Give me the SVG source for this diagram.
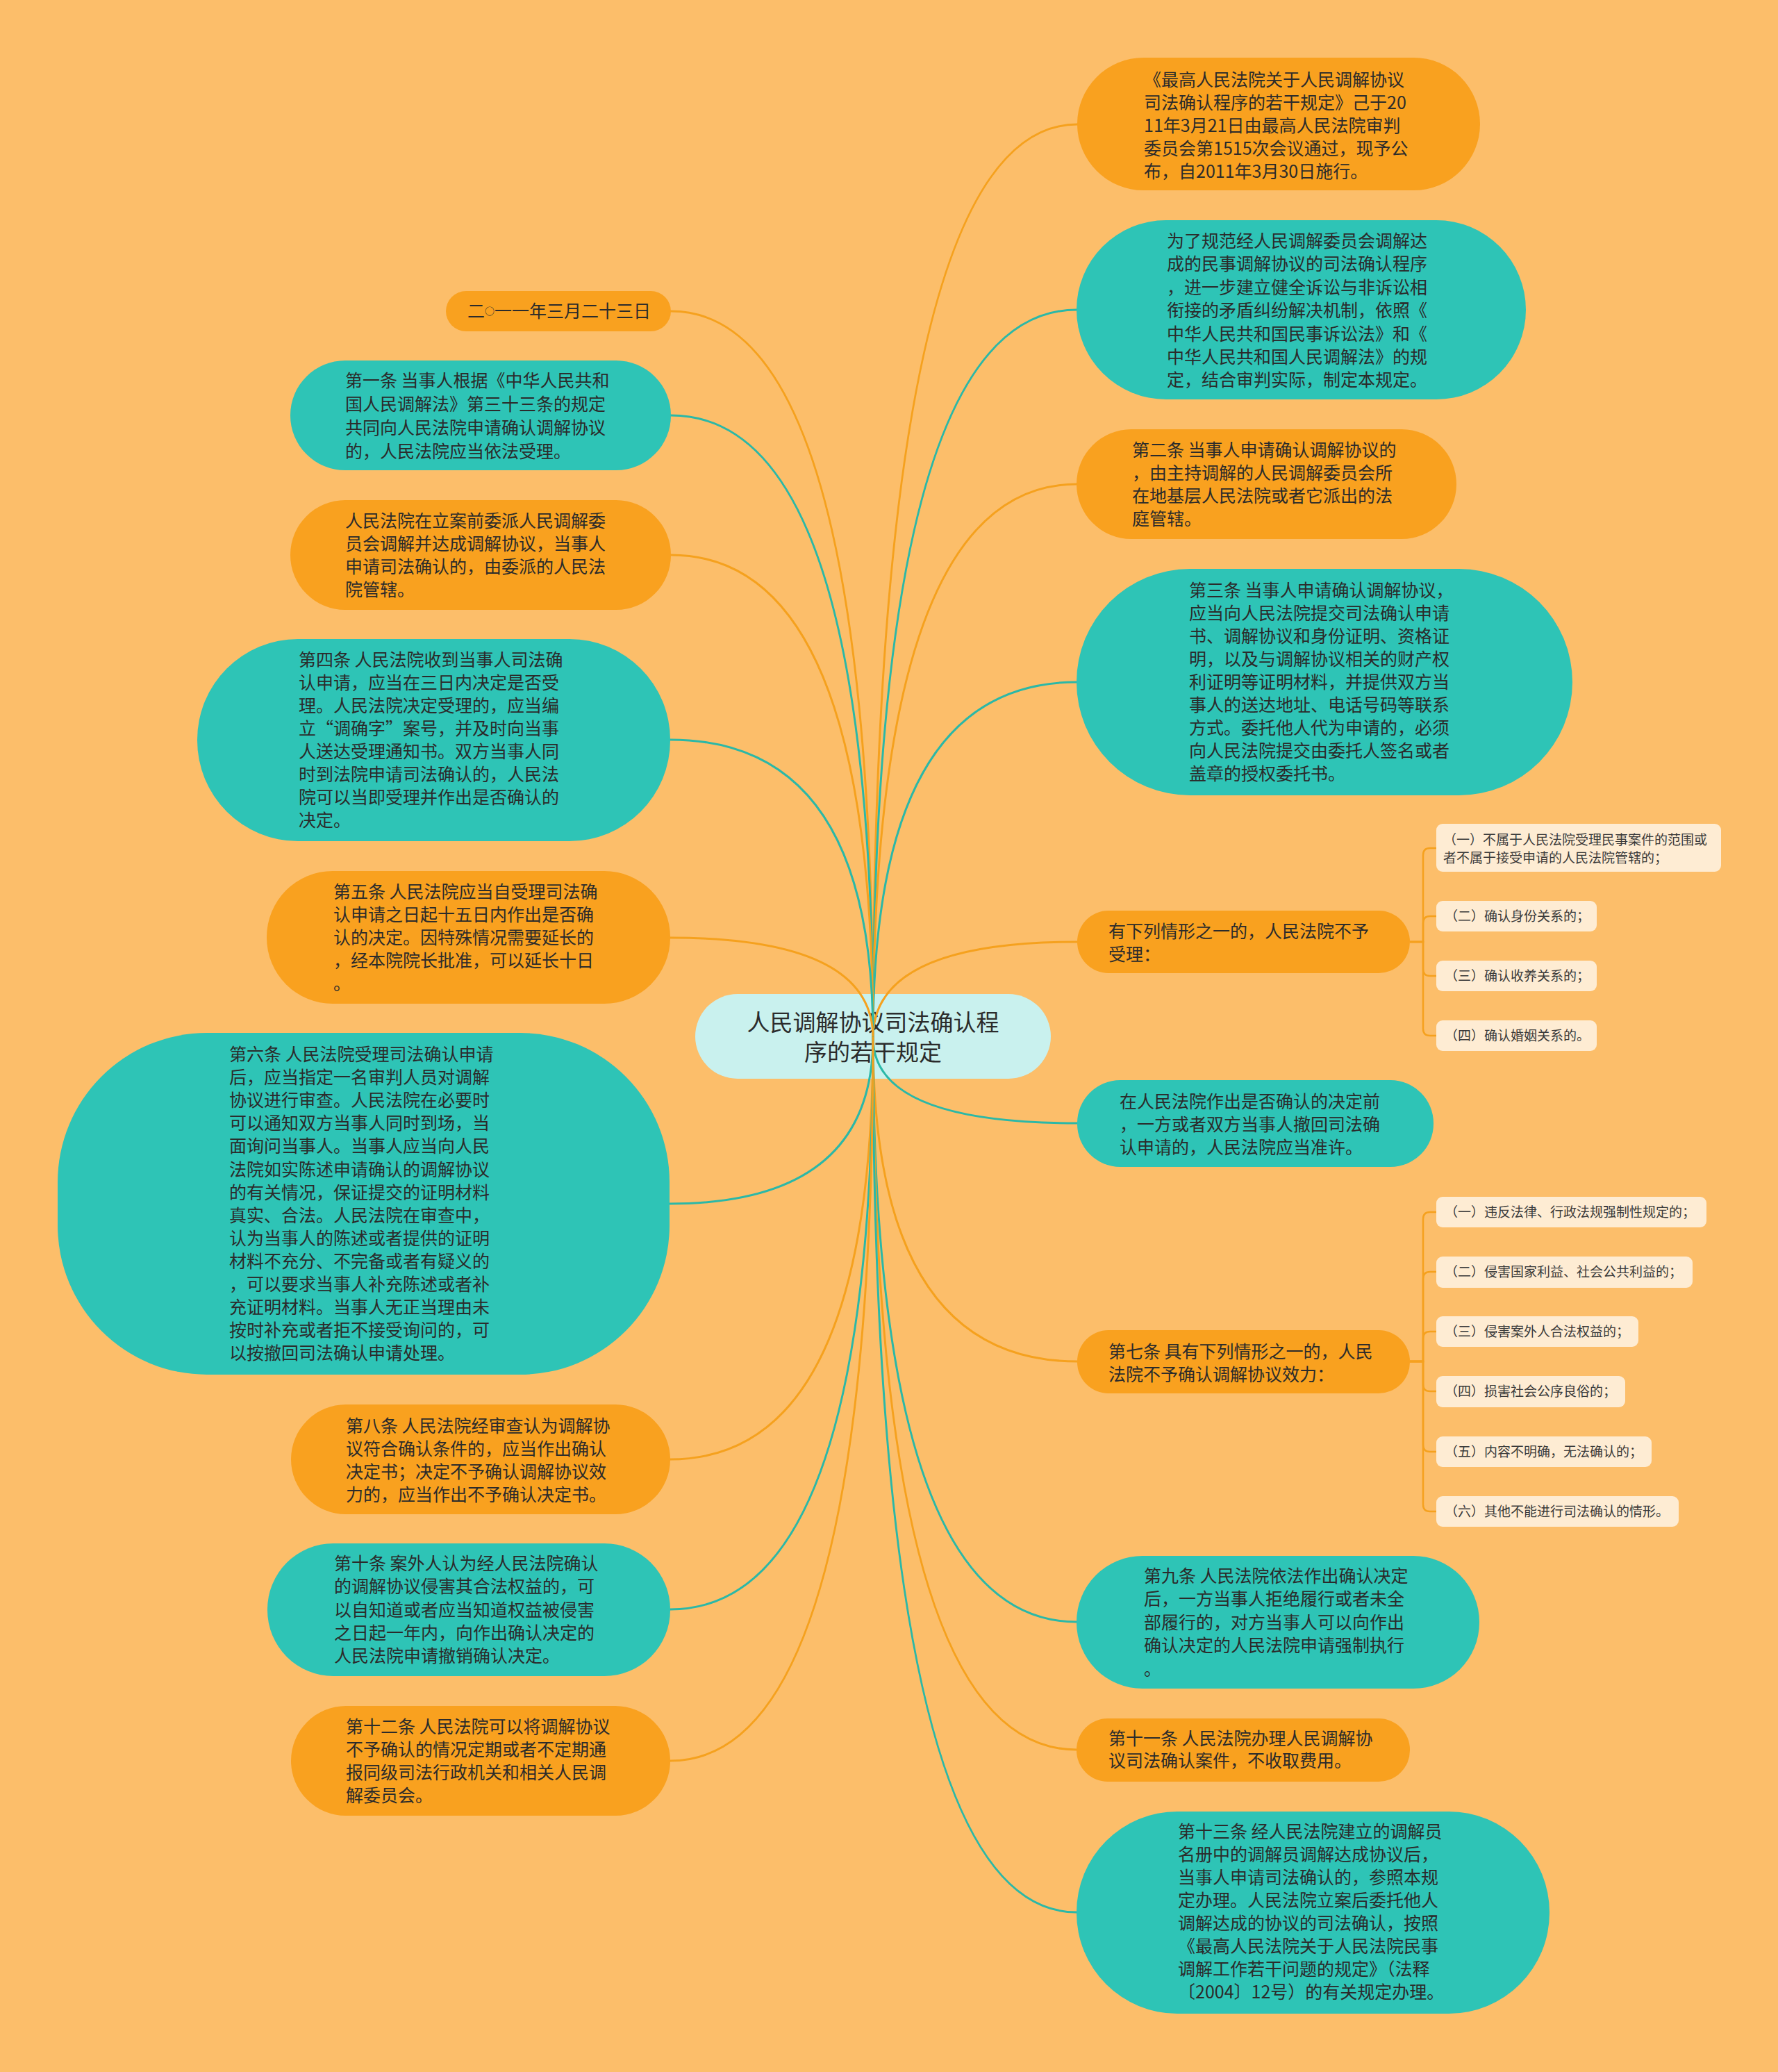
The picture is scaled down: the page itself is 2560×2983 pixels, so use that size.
<svg xmlns="http://www.w3.org/2000/svg" width="2560" height="2983" viewBox="0 0 2560 2983">
<style>
.o{fill:#F9A11F}
.t{fill:#2EC4B6}
.s{fill:#FEECD3}
.tx{font-family:"Noto Sans CJK SC","Noto Sans",sans-serif;font-size:25px;fill:#2B2B2B}
.sx{font-family:"Noto Sans CJK SC","Noto Sans",sans-serif;font-size:19px;fill:#3A3A3A}
.lo{fill:none;stroke:#F5A11E;stroke-width:3;stroke-linecap:round}
.lt{fill:none;stroke:#2BB8A7;stroke-width:3;stroke-linecap:round}
.lb{fill:none;stroke:#F5A11E;stroke-width:2.5}
</style>
<rect width="2560" height="2983" fill="#FCBE6A"/>

<g id="root">
<rect x="1001" y="1431" width="512" height="122" rx="61" fill="#C9F1EE"/>
<text class="tx" style="font-size:33px" text-anchor="middle"><tspan x="1257" y="1484">人民调解协议司法确认程</tspan><tspan x="1257" y="1527">序的若干规定</tspan></text>
</g>

<g id="connectors">
<path class="lo" d="M1257 1494 Q1257 179 1551 179"/>
<path class="lt" d="M1257 1494 Q1257 446 1550 446"/>
<path class="lo" d="M1257 1494 Q1257 697 1550 697"/>
<path class="lt" d="M1257 1494 Q1257 982 1550 982"/>
<path class="lo" d="M1257 1494 Q1257 1356 1551 1356"/>
<path class="lt" d="M1257 1494 Q1257 1617 1551 1617"/>
<path class="lo" d="M1257 1494 Q1257 1960 1551 1960"/>
<path class="lt" d="M1257 1494 Q1257 2335 1550 2335"/>
<path class="lo" d="M1257 1494 Q1257 2519 1550 2519"/>
<path class="lt" d="M1257 1494 Q1257 2753 1550 2753"/>
<path class="lo" d="M1257 1494 Q1257 448 966 448"/>
<path class="lt" d="M1257 1494 Q1257 598 966 598"/>
<path class="lo" d="M1257 1494 Q1257 799 966 799"/>
<path class="lt" d="M1257 1494 Q1257 1065 965 1065"/>
<path class="lo" d="M1257 1494 Q1257 1350 965 1350"/>
<path class="lt" d="M1257 1494 Q1257 1733 964 1733"/>
<path class="lo" d="M1257 1494 Q1257 2101 965 2101"/>
<path class="lt" d="M1257 1494 Q1257 2317 965 2317"/>
<path class="lo" d="M1257 1494 Q1257 2535 965 2535"/>
<path class="lb" d="M2030 1356 H2049 V1231 Q2049 1221 2059 1221 H2068"/>
<path class="lb" d="M2030 1356 H2049 V1329 Q2049 1319 2059 1319 H2068"/>
<path class="lb" d="M2030 1356 H2049 V1395 Q2049 1405 2059 1405 H2068"/>
<path class="lb" d="M2030 1356 H2049 V1481 Q2049 1491 2059 1491 H2068"/>
<path class="lb" d="M2030 1960 H2049 V1755 Q2049 1745 2059 1745 H2068"/>
<path class="lb" d="M2030 1960 H2049 V1841 Q2049 1831 2059 1831 H2068"/>
<path class="lb" d="M2030 1960 H2049 V1927 Q2049 1917 2059 1917 H2068"/>
<path class="lb" d="M2030 1960 H2049 V1993 Q2049 2003 2059 2003 H2068"/>
<path class="lb" d="M2030 1960 H2049 V2080 Q2049 2090 2059 2090 H2068"/>
<path class="lb" d="M2030 1960 H2049 V2166 Q2049 2176 2059 2176 H2068"/>
</g>

<g id="r1">
<rect class="o" x="1551" y="83" width="580" height="191" rx="95.5"/>
<text class="tx"><tspan x="1647" y="124">《最高人民法院关于人民调解协议</tspan><tspan x="1647" y="157">司法确认程序的若干规定》己于20</tspan><tspan x="1647" y="190">11年3月21日由最高人民法院审判</tspan><tspan x="1647" y="223">委员会第1515次会议通过，现予公</tspan><tspan x="1647" y="256">布，自2011年3月30日施行。</tspan></text>
</g>

<g id="r2">
<rect class="t" x="1550" y="317" width="647" height="258" rx="129"/>
<text class="tx"><tspan x="1680" y="356">为了规范经人民调解委员会调解达</tspan><tspan x="1680" y="389">成的民事调解协议的司法确认程序</tspan><tspan x="1680" y="423">，进一步建立健全诉讼与非诉讼相</tspan><tspan x="1680" y="456">衔接的矛盾纠纷解决机制，依照《</tspan><tspan x="1680" y="490">中华人民共和国民事诉讼法》和《</tspan><tspan x="1680" y="523">中华人民共和国人民调解法》的规</tspan><tspan x="1680" y="556">定，结合审判实际，制定本规定。</tspan></text>
</g>

<g id="r3">
<rect class="o" x="1550" y="618" width="547" height="158" rx="79"/>
<text class="tx"><tspan x="1630" y="657">第二条 当事人申请确认调解协议的</tspan><tspan x="1630" y="690">，由主持调解的人民调解委员会所</tspan><tspan x="1630" y="723">在地基层人民法院或者它派出的法</tspan><tspan x="1630" y="756">庭管辖。</tspan></text>
</g>

<g id="r4">
<rect class="t" x="1550" y="819" width="714" height="326" rx="163"/>
<text class="tx"><tspan x="1712" y="859">第三条 当事人申请确认调解协议，</tspan><tspan x="1712" y="892">应当向人民法院提交司法确认申请</tspan><tspan x="1712" y="925">书、调解协议和身份证明、资格证</tspan><tspan x="1712" y="958">明，以及与调解协议相关的财产权</tspan><tspan x="1712" y="991">利证明等证明材料，并提供双方当</tspan><tspan x="1712" y="1024">事人的送达地址、电话号码等联系</tspan><tspan x="1712" y="1057">方式。委托他人代为申请的，必须</tspan><tspan x="1712" y="1090">向人民法院提交由委托人签名或者</tspan><tspan x="1712" y="1123">盖章的授权委托书。</tspan></text>
</g>

<g id="r5">
<rect class="o" x="1551" y="1311" width="479" height="90" rx="45"/>
<text class="tx"><tspan x="1596" y="1350">有下列情形之一的，人民法院不予</tspan><tspan x="1596" y="1383">受理：</tspan></text>
</g>

<g id="r5a">
<rect class="s" x="2068" y="1186" width="410" height="69" rx="9"/>
<text class="sx"><tspan x="2078" y="1216">（一）不属于人民法院受理民事案件的范围或</tspan><tspan x="2078" y="1242">者不属于接受申请的人民法院管辖的；</tspan></text>
</g>
<g id="r5b">
<rect class="s" x="2068" y="1297" width="231" height="44" rx="9"/>
<text class="sx" x="2080" y="1326">（二）确认身份关系的；</text>
</g>
<g id="r5c">
<rect class="s" x="2068" y="1383" width="231" height="44" rx="9"/>
<text class="sx" x="2080" y="1412">（三）确认收养关系的；</text>
</g>
<g id="r5d">
<rect class="s" x="2068" y="1469" width="231" height="44" rx="9"/>
<text class="sx" x="2080" y="1498">（四）确认婚姻关系的。</text>
</g>

<g id="r6">
<rect class="t" x="1551" y="1555" width="513" height="125" rx="62"/>
<text class="tx"><tspan x="1612" y="1595">在人民法院作出是否确认的决定前</tspan><tspan x="1612" y="1628">，一方或者双方当事人撤回司法确</tspan><tspan x="1612" y="1661">认申请的，人民法院应当准许。</tspan></text>
</g>

<g id="r7">
<rect class="o" x="1551" y="1915" width="479" height="91" rx="45"/>
<text class="tx"><tspan x="1596" y="1955">第七条 具有下列情形之一的，人民</tspan><tspan x="1596" y="1988">法院不予确认调解协议效力：</tspan></text>
</g>

<g id="r7a">
<rect class="s" x="2068" y="1723" width="389" height="44" rx="9"/>
<text class="sx" x="2080" y="1752">（一）违反法律、行政法规强制性规定的；</text>
</g>
<g id="r7b">
<rect class="s" x="2068" y="1809" width="369" height="45" rx="9"/>
<text class="sx" x="2080" y="1838">（二）侵害国家利益、社会公共利益的；</text>
</g>
<g id="r7c">
<rect class="s" x="2068" y="1895" width="291" height="44" rx="9"/>
<text class="sx" x="2080" y="1924">（三）侵害案外人合法权益的；</text>
</g>
<g id="r7d">
<rect class="s" x="2068" y="1981" width="272" height="45" rx="9"/>
<text class="sx" x="2080" y="2010">（四）损害社会公序良俗的；</text>
</g>
<g id="r7e">
<rect class="s" x="2068" y="2068" width="310" height="44" rx="9"/>
<text class="sx" x="2080" y="2097">（五）内容不明确，无法确认的；</text>
</g>
<g id="r7f">
<rect class="s" x="2068" y="2154" width="349" height="44" rx="9"/>
<text class="sx" x="2080" y="2183">（六）其他不能进行司法确认的情形。</text>
</g>

<g id="r8">
<rect class="t" x="1550" y="2240" width="580" height="191" rx="95"/>
<text class="tx"><tspan x="1647" y="2278">第九条 人民法院依法作出确认决定</tspan><tspan x="1647" y="2311">后，一方当事人拒绝履行或者未全</tspan><tspan x="1647" y="2345">部履行的，对方当事人可以向作出</tspan><tspan x="1647" y="2378">确认决定的人民法院申请强制执行</tspan><tspan x="1647" y="2412">。</tspan></text>
</g>

<g id="r9">
<rect class="o" x="1550" y="2474" width="480" height="91" rx="45"/>
<text class="tx"><tspan x="1596" y="2512">第十一条 人民法院办理人民调解协</tspan><tspan x="1596" y="2544">议司法确认案件，不收取费用。</tspan></text>
</g>

<g id="r10">
<rect class="t" x="1550" y="2608" width="681" height="291" rx="145"/>
<text class="tx"><tspan x="1696" y="2646">第十三条 经人民法院建立的调解员</tspan><tspan x="1696" y="2679">名册中的调解员调解达成协议后，</tspan><tspan x="1696" y="2712">当事人申请司法确认的，参照本规</tspan><tspan x="1696" y="2745">定办理。人民法院立案后委托他人</tspan><tspan x="1696" y="2778">调解达成的协议的司法确认，按照</tspan><tspan x="1696" y="2811">《最高人民法院关于人民法院民事</tspan><tspan x="1696" y="2844">调解工作若干问题的规定》（法释</tspan><tspan x="1696" y="2877">〔2004〕12号）的有关规定办理。</tspan></text>
</g>

<g id="l1">
<rect class="o" x="642" y="419" width="324" height="58" rx="29"/>
<text class="tx" x="673" y="457">二<tspan style="font-size:14px" dy="-4">○</tspan><tspan dy="4">一一年三月二十三日</tspan></text>
</g>

<g id="l2">
<rect class="t" x="418" y="519" width="548" height="158" rx="79"/>
<text class="tx"><tspan x="497" y="557">第一条 当事人根据《中华人民共和</tspan><tspan x="497" y="591">国人民调解法》第三十三条的规定</tspan><tspan x="497" y="625">共同向人民法院申请确认调解协议</tspan><tspan x="497" y="659">的，人民法院应当依法受理。</tspan></text>
</g>

<g id="l3">
<rect class="o" x="418" y="720" width="548" height="158" rx="79"/>
<text class="tx"><tspan x="497" y="759">人民法院在立案前委派人民调解委</tspan><tspan x="497" y="792">员会调解并达成调解协议，当事人</tspan><tspan x="497" y="825">申请司法确认的，由委派的人民法</tspan><tspan x="497" y="858">院管辖。</tspan></text>
</g>

<g id="l4">
<rect class="t" x="284" y="920" width="681" height="291" rx="145"/>
<text class="tx"><tspan x="430" y="959">第四条 人民法院收到当事人司法确</tspan><tspan x="430" y="992">认申请，应当在三日内决定是否受</tspan><tspan x="430" y="1025">理。人民法院决定受理的，应当编</tspan><tspan x="430" y="1058">立“调确字”案号，并及时向当事</tspan><tspan x="430" y="1091">人送达受理通知书。双方当事人同</tspan><tspan x="430" y="1124">时到法院申请司法确认的，人民法</tspan><tspan x="430" y="1157">院可以当即受理并作出是否确认的</tspan><tspan x="430" y="1190">决定。</tspan></text>
</g>

<g id="l5">
<rect class="o" x="384" y="1254" width="581" height="191" rx="95"/>
<text class="tx"><tspan x="480" y="1293">第五条 人民法院应当自受理司法确</tspan><tspan x="480" y="1326">认申请之日起十五日内作出是否确</tspan><tspan x="480" y="1359">认的决定。因特殊情况需要延长的</tspan><tspan x="480" y="1392">，经本院院长批准，可以延长十日</tspan><tspan x="480" y="1425">。</tspan></text>
</g>

<g id="l6">
<rect class="t" x="83" y="1487" width="881" height="492" rx="215"/>
<text class="tx"><tspan x="330" y="1527">第六条 人民法院受理司法确认申请</tspan><tspan x="330" y="1560">后，应当指定一名审判人员对调解</tspan><tspan x="330" y="1593">协议进行审查。人民法院在必要时</tspan><tspan x="330" y="1626">可以通知双方当事人同时到场，当</tspan><tspan x="330" y="1659">面询问当事人。当事人应当向人民</tspan><tspan x="330" y="1693">法院如实陈述申请确认的调解协议</tspan><tspan x="330" y="1726">的有关情况，保证提交的证明材料</tspan><tspan x="330" y="1759">真实、合法。人民法院在审查中，</tspan><tspan x="330" y="1792">认为当事人的陈述或者提供的证明</tspan><tspan x="330" y="1825">材料不充分、不完备或者有疑义的</tspan><tspan x="330" y="1858">，可以要求当事人补充陈述或者补</tspan><tspan x="330" y="1891">充证明材料。当事人无正当理由未</tspan><tspan x="330" y="1924">按时补充或者拒不接受询问的，可</tspan><tspan x="330" y="1957">以按撤回司法确认申请处理。</tspan></text>
</g>

<g id="l7">
<rect class="o" x="419" y="2022" width="546" height="158" rx="79"/>
<text class="tx"><tspan x="498" y="2062">第八条 人民法院经审查认为调解协</tspan><tspan x="498" y="2095">议符合确认条件的，应当作出确认</tspan><tspan x="498" y="2128">决定书；决定不予确认调解协议效</tspan><tspan x="498" y="2161">力的，应当作出不予确认决定书。</tspan></text>
</g>

<g id="l8">
<rect class="t" x="385" y="2222" width="580" height="191" rx="95"/>
<text class="tx"><tspan x="481" y="2260">第十条 案外人认为经人民法院确认</tspan><tspan x="481" y="2293">的调解协议侵害其合法权益的，可</tspan><tspan x="481" y="2327">以自知道或者应当知道权益被侵害</tspan><tspan x="481" y="2360">之日起一年内，向作出确认决定的</tspan><tspan x="481" y="2393">人民法院申请撤销确认决定。</tspan></text>
</g>

<g id="l9">
<rect class="o" x="419" y="2456" width="546" height="158" rx="79"/>
<text class="tx"><tspan x="498" y="2495">第十二条 人民法院可以将调解协议</tspan><tspan x="498" y="2528">不予确认的情况定期或者不定期通</tspan><tspan x="498" y="2561">报同级司法行政机关和相关人民调</tspan><tspan x="498" y="2594">解委员会。</tspan></text>
</g>
</svg>
